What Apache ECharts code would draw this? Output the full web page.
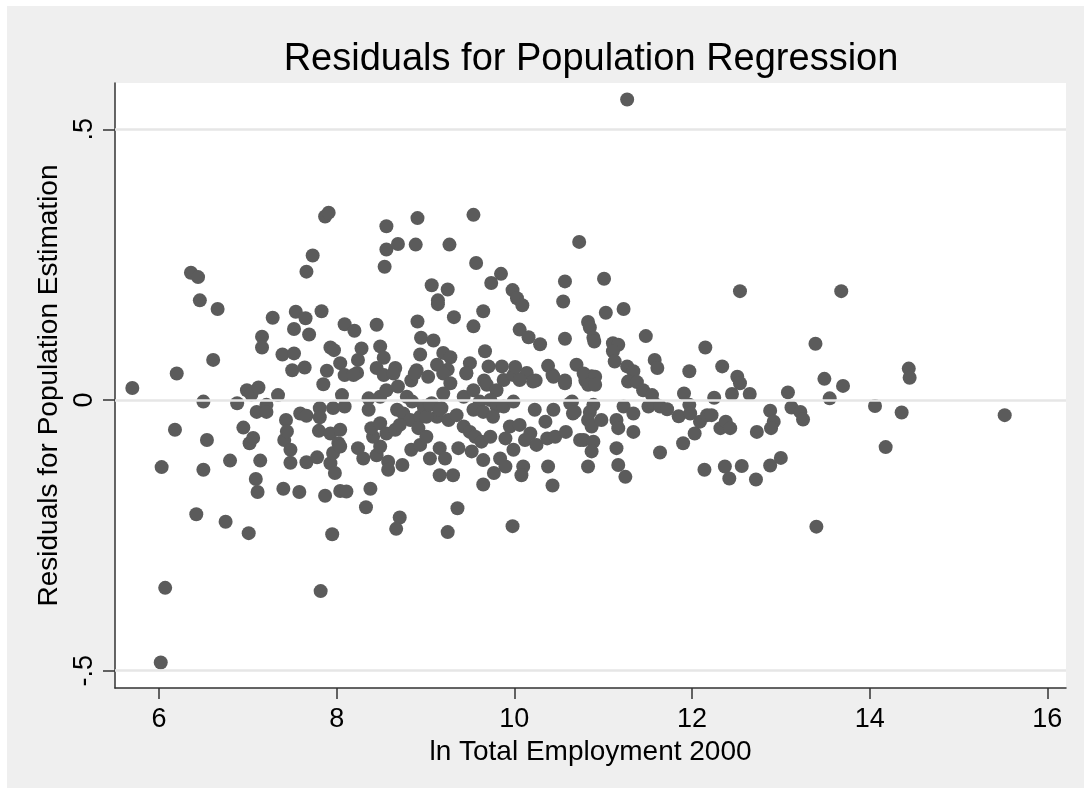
<!DOCTYPE html>
<html>
<head>
<meta charset="utf-8">
<script src="https://cdn.jsdelivr.net/npm/echarts@6/dist/echarts.min.js"></script>
<style>
html,body{margin:0;padding:0;background:#fff;}
#chart{width:1084px;height:788px;}
</style>
</head>
<body>
<div id="chart"></div>
<script>
// ---- data: [ln Total Employment 2000, residual] ----
const pointsUnder7 = [
[5.70,0.022],[6.02,-0.485],[6.03,-0.124],[6.07,-0.347],[6.18,-0.055],[6.20,0.049],[6.36,0.235],[6.44,0.227],
[6.42,-0.211],[6.46,0.184],[6.50,-0.003],[6.50,-0.129],[6.54,-0.074],[6.61,0.074],[6.66,0.168],[6.75,-0.225],
[6.80,-0.112],[6.88,-0.006],[6.95,-0.051],[6.99,0.018]
];
const points7to8 = [
[7.01,-0.246],[7.02,-0.080],[7.04,0.010],[7.06,-0.070],[7.09,-0.146],[7.10,-0.022],[7.11,-0.170],[7.12,0.023],
[7.14,-0.112],[7.16,0.117],[7.16,0.097],[7.21,-0.009],[7.21,-0.022],[7.28,0.152],[7.34,0.009],[7.39,0.084],
[7.40,-0.164],[7.41,-0.074],[7.43,-0.037],[7.44,-0.058],[7.48,-0.092],[7.48,-0.116],[7.50,0.055],[7.52,0.086],
[7.52,0.131],[7.54,0.163],[7.58,-0.170],[7.59,-0.025],[7.64,0.060],[7.65,0.151],[7.66,0.237],[7.66,-0.029],
[7.66,-0.115],[7.69,0.121],[7.73,0.267],[7.78,-0.106],[7.80,-0.057],[7.81,-0.015],[7.81,-0.032],[7.82,-0.353],
[7.83,0.164],[7.85,0.029],[7.87,0.339],[7.87,-0.177],[7.89,0.054],[7.91,0.346],[7.93,0.097],[7.93,-0.062],
[7.93,-0.117],[7.95,-0.248],[7.96,-0.015],[7.96,-0.098],[7.97,0.092],[7.98,-0.135]
];
const points8to9 = [
[8.02,-0.080],[8.04,0.068],[8.04,-0.055],[8.04,-0.086],[8.06,0.009],[8.09,-0.012],[8.09,0.046],[8.09,0.140],
[8.04,-0.168],[8.11,-0.169],[8.20,0.128],[8.45,0.139],[8.28,0.095],[8.49,0.099],[8.24,0.074],[8.53,0.078],
[8.94,0.084],[8.23,0.050],[8.45,0.059],[8.66,0.059],[8.90,0.055],[8.84,0.036],[8.56,0.321],[8.91,0.336],
[8.56,0.278],[8.69,0.288],[8.89,0.287],[8.54,0.246],[8.91,0.145],[8.95,0.115],[8.19,0.046],[8.53,0.046],
[8.64,0.049],[8.88,0.049],[8.36,0.003],[8.49,0.006],[8.36,-0.018],[8.56,0.018],[8.69,0.025],[8.79,0.006],
[8.85,-0.003],[8.98,-0.012],[8.68,-0.018],[8.75,-0.025],[8.83,-0.037],[8.94,-0.031],[8.92,-0.052],[8.99,-0.018],
[8.24,-0.089],[8.30,-0.108],[8.45,-0.102],[8.58,-0.114],[8.49,-0.086],[8.41,-0.068],[8.39,-0.052],[8.49,-0.043],
[8.56,-0.062],[8.66,-0.055],[8.71,-0.046],[8.84,-0.092],[8.94,-0.083],[8.74,-0.120],[8.58,-0.129],[8.38,-0.164],
[8.33,-0.198],[8.71,-0.217],[8.67,-0.238]
];
const points9to10 = [
[9.09,0.110],[9.07,0.212],[9.25,0.204],[9.14,0.184],[9.14,0.177],[9.54,0.342],[9.27,0.287],[9.57,0.253],
[9.85,0.233],[9.74,0.216],[9.98,0.203],[9.32,0.153],[9.65,0.164],[9.54,0.136],[9.67,0.090],[9.20,0.087],
[9.28,0.079],[9.50,0.068],[9.46,0.050],[9.71,0.062],[9.86,0.062],[9.13,0.065],[9.25,0.056],[9.66,0.036],
[9.03,0.043],[9.20,0.049],[9.28,0.031],[9.20,0.012],[9.46,0.049],[9.69,0.028],[9.80,0.018],[9.88,0.037],
[9.99,0.046],[9.07,-0.006],[9.18,-0.015],[9.13,-0.031],[9.01,-0.031],[9.05,-0.009],[9.43,0.006],[9.54,0.018],
[9.61,-0.003],[9.73,0.000],[9.80,-0.012],[9.88,-0.012],[9.99,-0.003],[9.54,-0.018],[9.65,-0.022],[9.76,-0.031],
[9.95,-0.049],[9.90,-0.071],[9.99,-0.092],[9.84,-0.108],[9.90,-0.123],[9.77,-0.135],[9.65,-0.111],[9.65,-0.156],
[9.26,-0.037],[9.35,-0.028],[9.16,-0.018],[9.43,-0.049],[9.50,-0.059],[9.56,-0.068],[9.63,-0.077],[9.73,-0.068],
[9.37,-0.089],[9.52,-0.095],[9.16,-0.089],[9.22,-0.108],[9.05,-0.108],[9.16,-0.139],[9.31,-0.139],[9.36,-0.200],
[9.25,-0.244],[9.98,-0.233],[9.01,-0.068]
];
const points10to11 = [
[10.03,0.188],[10.09,0.175],[10.57,0.219],[10.55,0.182],[10.06,0.130],[10.16,0.116],[10.29,0.103],[10.57,0.113],
[10.38,0.063],[10.43,0.046],[10.70,0.065],[10.01,0.061],[10.14,0.050],[10.57,0.036],[10.24,0.036],[10.73,0.292],
[10.06,0.037],[10.21,0.034],[10.44,0.043],[10.57,0.031],[10.23,-0.018],[10.44,-0.018],[10.63,-0.006],[10.66,-0.025],
[10.35,-0.040],[10.06,-0.046],[10.18,-0.062],[10.12,-0.074],[10.25,-0.083],[10.37,-0.071],[10.46,-0.068],[10.58,-0.059],
[10.74,-0.074],[10.38,-0.123],[10.43,-0.158],[10.10,-0.123],[10.08,-0.139],[10.83,0.144],[10.85,0.134],[10.89,0.115],
[10.90,0.108],[10.87,0.044],[10.80,0.036],[10.78,0.049],[10.91,0.043],[10.83,0.028],[10.91,0.028],[10.65,-0.003],
[10.68,-0.022],[10.89,-0.009],[10.85,-0.022],[10.83,-0.037],[10.87,-0.049],[10.98,-0.037],[10.78,-0.074],[10.89,-0.077],
[10.87,-0.095],[10.83,-0.123]
];
const pointsOver11 = [
[11.01,0.224],[11.03,0.161],[11.23,0.168],[11.27,0.555],[11.11,0.105],[11.17,0.102],[11.11,0.090],[11.13,0.071],
[11.27,0.062],[11.34,0.053],[11.48,0.118],[11.58,0.074],[11.61,0.059],[11.28,0.034],[11.38,0.033],[11.45,0.018],
[11.55,0.009],[11.23,-0.012],[11.34,-0.025],[11.15,-0.037],[11.17,-0.052],[11.34,-0.059],[11.15,-0.089],[11.17,-0.120],
[11.25,-0.142],[11.51,-0.012],[11.57,-0.006],[11.64,-0.012],[11.72,-0.017],[11.64,-0.097],[11.85,-0.030],[11.97,-0.009],
[11.98,-0.025],[11.90,-0.080],[11.91,0.012],[11.97,0.053],[12.15,0.097],[12.34,0.062],[12.51,0.043],[12.54,0.031],
[12.54,0.201],[12.25,0.004],[12.45,0.011],[12.65,0.011],[12.03,-0.062],[12.09,-0.040],[12.17,-0.028],[12.22,-0.028],
[12.32,-0.052],[12.38,-0.040],[12.43,-0.052],[12.73,-0.059],[12.88,-0.020],[12.92,-0.040],[12.89,-0.052],[12.14,-0.129],
[12.37,-0.123],[12.42,-0.145],[12.56,-0.122],[12.72,-0.147],[12.88,-0.121],[13.00,-0.107],[13.08,0.014],[13.12,-0.014],
[13.22,-0.022],[13.25,-0.036],[13.39,0.104],[13.40,-0.234],[13.49,0.039],[13.70,0.026],[13.55,0.003],[13.68,0.201],
[14.06,-0.011],[14.36,-0.023],[14.18,-0.087],[14.44,0.058],[14.45,0.041],[15.52,-0.028]
];

const xTicks = [6, 8, 10, 12, 14, 16];
const yTicks = [-0.5, 0, 0.5];
const titleText = 'Residuals for Population Regression';
const xTitle = 'ln Total Employment 2000';
const yTitle = 'Residuals for Population Estimation';

const allPoints = [].concat(pointsUnder7, points7to8, points8to9, points9to10, points10to11, pointsOver11);

const FONT = '"Liberation Sans", Arial, sans-serif';
const chart = echarts.init(document.getElementById('chart'), null, {renderer: 'canvas'});

function fmtY(v) {
  if (v === 0) return '0';
  const s = String(Math.abs(v)).replace(/^0/, '');
  return (v < 0 ? '-' : '') + s;
}

chart.setOption({
  animation: false,
  backgroundColor: '#ffffff',
  graphic: [{
    type: 'rect', left: 7, top: 6, z: -100,
    shape: {width: 1077, height: 782},
    style: {fill: '#efefef'}
  }],
  title: {
    text: titleText,
    left: 586, top: 36, textAlign: 'center',
    textStyle: {fontSize: 38, fontWeight: 'normal', color: '#000', fontFamily: FONT}
  },
  grid: {
    left: 115, top: 83, width: 951, height: 605,
    show: true, backgroundColor: '#ffffff', borderWidth: 0, containLabel: false
  },
  xAxis: {
    type: 'value', min: 5.505, max: 16.21,
    name: xTitle, nameLocation: 'middle', nameGap: 42,
    nameTextStyle: {fontSize: 28, color: '#000', fontFamily: FONT},
    axisLine: {show: true, onZero: false, lineStyle: {color: '#333', width: 1.5}},
    axisTick: {show: true, length: 11, customValues: xTicks, lineStyle: {color: '#333', width: 1.5}},
    axisLabel: {customValues: xTicks, fontSize: 27, color: '#000', margin: 18, fontFamily: FONT},
    splitLine: {show: false}
  },
  yAxis: {
    type: 'value', min: -0.532, max: 0.5855,
    name: yTitle, nameLocation: 'middle', nameGap: 44, nameRotate: 90,
    nameTextStyle: {fontSize: 28, color: '#000', fontFamily: FONT},
    axisLine: {show: true, onZero: false, lineStyle: {color: '#333', width: 1.5}},
    axisTick: {show: true, length: 12, customValues: yTicks, lineStyle: {color: '#333', width: 1.5}},
    axisLabel: {customValues: yTicks, rotate: 90, fontSize: 27, color: '#000', margin: 17,
      fontFamily: FONT, formatter: fmtY},
    splitLine: {show: false}
  },
  series: [
    {
      type: 'scatter', data: [], z: 1, silent: true,
      markLine: {
        silent: true, symbol: ['none', 'none'], label: {show: false},
        lineStyle: {color: '#e6e6e6', width: 2.5, type: 'solid'},
        data: yTicks.map(v => ({yAxis: v}))
      }
    },
    {
      type: 'scatter', z: 3, data: allPoints, symbol: 'circle', symbolSize: 14,
      itemStyle: {color: '#5b5b5b', opacity: 1}
    }
  ]
});
</script>
</body>
</html>
